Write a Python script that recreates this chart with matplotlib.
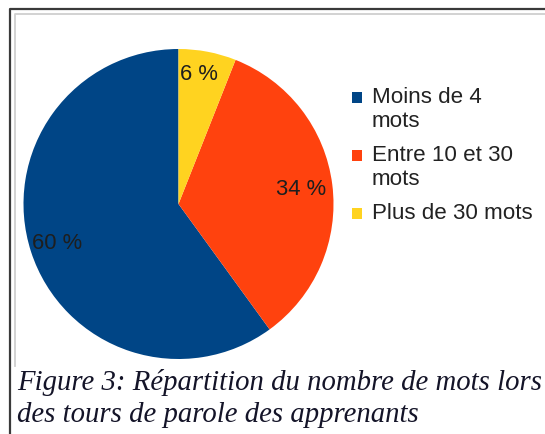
import matplotlib
matplotlib.use("Agg")
import matplotlib.pyplot as plt
from matplotlib.lines import Line2D
from matplotlib.patches import Rectangle

# ---- data ----
categories = ["Moins de 4\nmots", "Entre 10 et 30\nmots", "Plus de 30 mots"]
values = [60, 34, 6]
colors = ["#004586", "#ff420e", "#ffd320"]
caption_lines = ["Figure 3: Répartition du nombre de mots lors",
                 "des tours de parole des apprenants"]

W, H = 545, 434
fig = plt.figure(figsize=(W / 100, H / 100), dpi=100)
fig.patch.set_facecolor("white")


def fx(x):
    return x / W


def fy(y):
    return 1 - y / H


# ---- frame lines ----
fig.add_artist(Line2D([fx(10), fx(10), fx(545)], [fy(434), fy(8.5), fy(8.5)],
                      color="#3a3a3a", lw=1.6, transform=fig.transFigure))
fig.add_artist(Line2D([fx(14.5), fx(14.5), fx(545)], [fy(366), fy(13.5), fy(13.5)],
                      color="#cfcfcf", lw=1.3, transform=fig.transFigure))

# ---- pie ----
cx, cy, r = 178.5, 204, 155
ax = fig.add_axes([fx(cx - r), fy(cy + r), 2 * r / W, 2 * r / H])
wedges, texts, autotexts = ax.pie(
    values, colors=colors, startangle=90, counterclock=True,
    autopct=lambda p: f"{p:.0f} %", pctdistance=0.8,
    wedgeprops=dict(linewidth=0),
    textprops=dict(fontsize=15.8, family="Liberation Sans", color="#1e1e1e"))
x, y = autotexts[2].get_position()
autotexts[2].set_position((x - 0.015, y * 0.86 / 0.8))
x, y = autotexts[0].get_position()
autotexts[0].set_position((x - 0.02, y))
for t in autotexts:
    t.set_va("baseline")
    px, py = t.get_position()
    t.set_position((px, py - 0.045))
ax.set_xlim(-1, 1)
ax.set_ylim(-1, 1)
ax.set_aspect("auto")
ax.axis("off")

# ---- legend ----
lx_box, lx_text = 352, 372
y0 = 103
line_h = 24.3
gap = 9.5
ycur = y0
for lab, col in zip(categories, colors):
    fig.add_artist(Rectangle((fx(lx_box), fy(ycur)), 10 / W, 11 / H,
                             facecolor=col, edgecolor="none",
                             transform=fig.transFigure))
    for k, part in enumerate(lab.split("\n")):
        fig.text(fx(lx_text), fy(ycur + k * line_h), part, fontsize=16.1,
                 family="Liberation Sans", color="#222222",
                 va="baseline", ha="left")
    ycur += line_h * (lab.count("\n") + 1) + gap

# ---- caption ----
for i, line in enumerate(caption_lines):
    fig.text(fx(17), fy(390 + i * 32.5), line, fontsize=20.7,
             family="Liberation Serif", style="italic", color="#141428",
             va="baseline", ha="left")

fig.savefig("out.png", dpi=100, facecolor="white")
